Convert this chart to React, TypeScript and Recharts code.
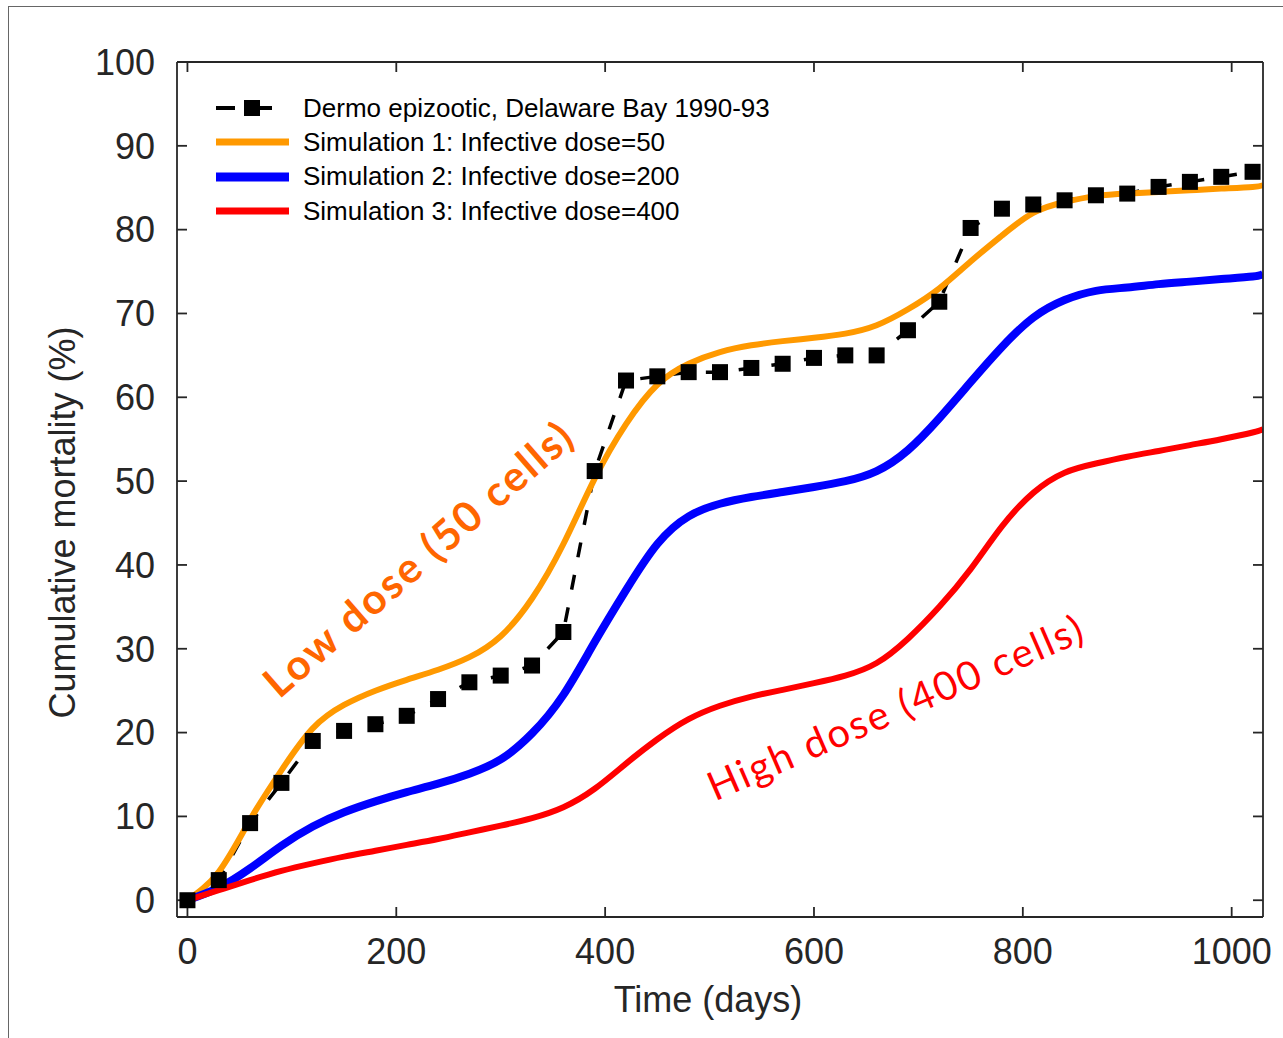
import { LineChart, Line, XAxis, YAxis, Legend, ReferenceDot } from 'recharts';

// sampling days (time in days)
const days = [0, 30, 60, 90, 120, 150, 180, 210, 240, 270, 300, 330, 360, 390, 420, 450, 480, 510, 540, 570, 600, 630, 660, 690, 720, 750, 780, 810, 840, 870, 900, 930, 960, 990, 1020, 1030];

// observed cumulative mortality (%), Delaware Bay 1990-93
const dermo = [0, 2.4, 9.2, 14, 19, 20.2, 21, 22, 24, 26, 26.8, 28, 32, 51.2, 62, 62.5, 63, 63, 63.5, 64, 64.7, 65, 65, 68, 71.4, 80.2, 82.5, 83, 83.5, 84.1, 84.3, 85.1, 85.7, 86.3, 86.9, null];

// simulations
const sim1 = [0, 3.4, 9.6, 15.5, 20.5, 23.3, 25, 26.3, 27.5, 29, 31.5, 36, 42.5, 50.3, 56.8, 61.5, 64, 65.4, 66.2, 66.7, 67.1, 67.6, 68.6, 70.5, 73, 76.2, 79.3, 82, 83.3, 84, 84.3, 84.5, 84.7, 84.9, 85.1, 85.3];
const sim2 = [0, 1.5, 3.8, 6.5, 8.8, 10.5, 11.8, 12.9, 13.9, 15.1, 16.8, 19.9, 24.5, 30.8, 37, 42.5, 45.8, 47.3, 48.1, 48.7, 49.3, 50, 51.2, 53.7, 57.5, 61.8, 66, 69.5, 71.6, 72.7, 73.1, 73.5, 73.8, 74.1, 74.4, 74.7];
const sim3 = [0, 1.2, 2.4, 3.5, 4.4, 5.2, 5.9, 6.6, 7.3, 8.1, 8.9, 9.8, 11.1, 13.3, 16.3, 19.2, 21.6, 23.2, 24.3, 25.1, 25.9, 26.8, 28.3, 31.2, 35, 39.5, 44.6, 48.6, 51, 52.1, 52.9, 53.6, 54.3, 55, 55.8, 56.2];

const xTicks = [0, 200, 400, 600, 800, 1000];
const yTicks = [0, 10, 20, 30, 40, 50, 60, 70, 80, 90, 100];

const legendNames = [
    'Dermo epizootic, Delaware Bay 1990-93',
    'Simulation 1: Infective dose=50',
    'Simulation 2: Infective dose=200',
    'Simulation 3: Infective dose=400',
];

const data = days.map((d, i) => ({ day: d, dermo: dermo[i], sim1: sim1[i], sim2: sim2[i], sim3: sim3[i] }));

const AXIS = '#262626';
const FONT = '"Liberation Sans", Arial, Helvetica, sans-serif';
const COLORS = ['#000000', '#ff9900', '#0000ff', '#ff0000'];

function SquareDot(props: any) {
    const { cx, cy, index, value } = props;
    if (value == null || cx == null || cy == null) return <g key={`sq-${index}`} />;
    return <rect key={`sq-${index}`} x={cx - 8} y={cy - 8} width={16} height={16} fill="#000" />;
}

// mirrored axes keep their tick marks but show no numbers
const NoLabel = () => <g />;

function LegendBox() {
    return (
        <div style={{ fontFamily: FONT }}>
            {legendNames.map((name, i) => (
                <div key={name} style={{ height: 34.3, display: 'flex', alignItems: 'center' }}>
                    <svg width={73} height={20}>
                        {i === 0 ? (
                            <g>
                                <line x1={0} y1={10} x2={19} y2={10} stroke="#000" strokeWidth={4} />
                                <rect x={28} y={2} width={16} height={16} fill="#000" />
                                <line x1={44} y1={10} x2={56} y2={10} stroke="#000" strokeWidth={4} />
                            </g>
                        ) : (
                            <line x1={0} y1={10} x2={73} y2={10} stroke={COLORS[i]} strokeWidth={i === 2 ? 9 : 7} />
                        )}
                    </svg>
                    <span style={{ marginLeft: 14, fontSize: 26, color: '#000', whiteSpace: 'nowrap' }}>{name}</span>
                </div>
            ))}
        </div>
    );
}

const rotatedText = (text: string, angle: number, color: string, size: number, weight: number, len: number) =>
    (props: any) => {
        const vb = props.viewBox || {};
        const cx = (vb.x ?? 0) + (vb.width ?? 0) / 2;
        const cy = (vb.y ?? 0) + (vb.height ?? 0) / 2;
        return (
            <text
                x={cx}
                y={cy}
                textAnchor="middle"
                fill={color}
                fontSize={size}
                fontWeight={weight}
                fontFamily='Lato, "Open Sans", sans-serif'
                textLength={len}
                transform={`rotate(${angle} ${cx} ${cy})`}
            >
                {text}
            </text>
        );
    };

function YLabel(props: any) {
    const vb = props.viewBox;
    const cx = vb.x + 62;
    const cy = vb.y + vb.height / 2 + 33;
    return (
        <text x={cx} y={cy} textAnchor="middle" dominantBaseline="central" fill={AXIS} fontSize={36} fontFamily={FONT}
            transform={`rotate(-90 ${cx} ${cy})`}>
            Cumulative mortality (%)
        </text>
    );
}

function XLabel(props: any) {
    const vb = props.viewBox;
    const cx = vb.x + vb.width / 2 - 12;
    const cy = vb.y + 95;
    return (
        <text x={cx} y={cy} textAnchor="middle" fill={AXIS} fontSize={36} fontFamily={FONT}>
            Time (days)
        </text>
    );
}

export default function App() {
    const tickStyle = { fill: AXIS, fontSize: 36, fontFamily: FONT };
    return (
        <div style={{ position: 'absolute', left: 0, top: 0, width: 1283, height: 1038, overflow: 'hidden', background: '#fff' }}>
            <div style={{ position: 'absolute', left: 8, top: 6, width: 1400, height: 1100, border: '1px solid #666' }} />
            <LineChart
                width={1283}
                height={1038}
                data={data}
                margin={{ top: 61, right: 19, bottom: 0, left: 0 }}
                style={{ fontFamily: FONT }}
            >
                <XAxis
                    dataKey="day"
                    type="number"
                    domain={[-10, 1030]}
                    ticks={xTicks}
                    allowDataOverflow
                    height={121}
                    stroke={AXIS}
                    strokeWidth={1.8}
                    tickSize={-10}
                    tickMargin={31}
                    tick={tickStyle}
                    label={{ content: XLabel }}
                />
                <XAxis
                    xAxisId="top"
                    orientation="top"
                    dataKey="day"
                    type="number"
                    domain={[-10, 1030]}
                    ticks={xTicks}
                    allowDataOverflow
                    height={1}
                    stroke={AXIS}
                    strokeWidth={1.8}
                    tickSize={-10}
                    tick={NoLabel}
                />
                <YAxis
                    type="number"
                    domain={[-2, 100]}
                    ticks={yTicks}
                    allowDataOverflow
                    width={177}
                    stroke={AXIS}
                    strokeWidth={1.8}
                    tickSize={-10}
                    tickMargin={32}
                    tick={tickStyle}
                    label={{ content: YLabel }}
                />
                <YAxis
                    yAxisId="right"
                    orientation="right"
                    type="number"
                    domain={[-2, 100]}
                    ticks={yTicks}
                    allowDataOverflow
                    width={1}
                    stroke={AXIS}
                    strokeWidth={1.8}
                    tickSize={-10}
                    tick={NoLabel}
                />
                <Legend
                    layout="vertical"
                    align="center"
                    verticalAlign="middle"
                    wrapperStyle={{ top: 91, left: 216, width: 620 }}
                    content={LegendBox}
                />
                {/* invisible series that binds the mirrored top/right axes */}
                <Line dataKey="sim1" xAxisId="top" yAxisId="right" stroke="none" dot={false} activeDot={false} legendType="none" isAnimationActive={false} />
                <Line
                    dataKey="dermo"
                    name={legendNames[0]}
                    type="linear"
                    stroke="#000"
                    strokeWidth={3.5}
                    strokeDasharray="15 18"
                    dot={SquareDot}
                    activeDot={false}
                    isAnimationActive={false}
                />
                <Line dataKey="sim1" name={legendNames[1]} type="natural" stroke={COLORS[1]} strokeWidth={6} dot={false} activeDot={false} isAnimationActive={false} />
                <Line dataKey="sim2" name={legendNames[2]} type="natural" stroke={COLORS[2]} strokeWidth={8} dot={false} activeDot={false} isAnimationActive={false} />
                <Line dataKey="sim3" name={legendNames[3]} type="natural" stroke={COLORS[3]} strokeWidth={6} dot={false} activeDot={false} isAnimationActive={false} />
                <ReferenceDot x={230} y={39.3} r={0} fill="none" stroke="none" ifOverflow="visible"
                    label={{ content: rotatedText('Low dose (50 cells)', -41, '#ff6600', 42, 700, 393) }} />
                <ReferenceDot x={683} y={21.4} r={0} fill="none" stroke="none" ifOverflow="visible"
                    label={{ content: rotatedText('High dose (400 cells)', -23.5, '#ff0000', 40, 400, 405) }} />
            </LineChart>
        </div>
    );
}
